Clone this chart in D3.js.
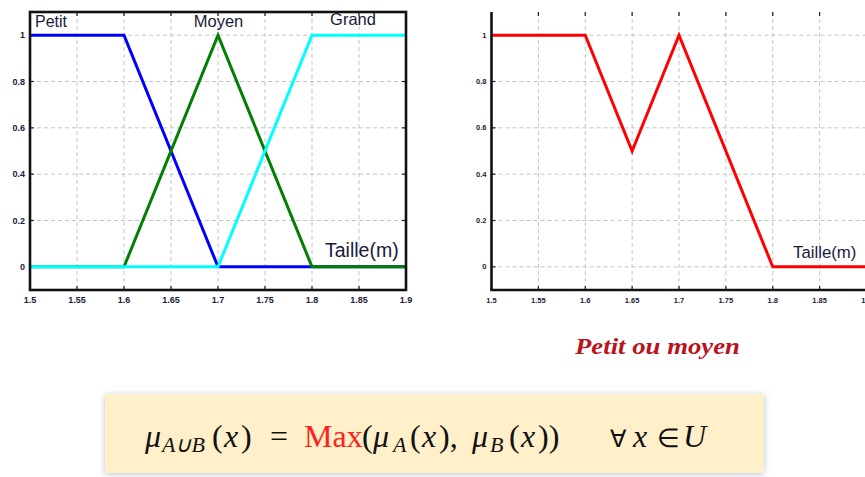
<!DOCTYPE html>
<html><head><meta charset="utf-8">
<script src="https://cdn.jsdelivr.net/npm/d3@7"></script>
<style>
html,body{margin:0;padding:0;background:#fff;}
svg{display:block;}
</style></head>
<body>
<svg id="c" width="865" height="477"></svg>
<script>
// ---- data ----
const xTicks = [1.5, 1.55, 1.6, 1.65, 1.7, 1.75, 1.8, 1.85, 1.9];
const xTickLabels = ["1.5", "1.55", "1.6", "1.65", "1.7", "1.75", "1.8", "1.85", "1.9"];
const yTicks = [0, 0.2, 0.4, 0.6, 0.8, 1];
const yTickLabels = ["0", "0.2", "0.4", "0.6", "0.8", "1"];
const petitX = [1.5, 1.6, 1.7, 1.9];
const petitY = [1, 1, 0, 0];
const moyenX = [1.5, 1.6, 1.7, 1.8, 1.9];
const moyenY = [0, 0, 1, 0, 0];
const grandX = [1.5, 1.7, 1.8, 1.9];
const grandY = [0, 0, 1, 1];
const unionX = [1.5, 1.6, 1.65, 1.7, 1.8, 1.9];
const unionY = [1, 1, 0.5, 1, 0, 0];
const seriesNames = ["Petit", "Moyen", "Grand"];
const axisLabel = "Taille(m)";
const caption = "Petit ou moyen";

const svg = d3.select("#c");
const defs = svg.append("defs");
const f = defs.append("filter").attr("id","sh").attr("x","-5%").attr("y","-20%").attr("width","110%").attr("height","140%");
f.append("feDropShadow").attr("dx",0).attr("dy",1).attr("stdDeviation",3).attr("flood-color","#7d8ea6").attr("flood-opacity",0.55);

const yDom = [-0.1, 1.1];
const yS = d3.scaleLinear().domain(yDom).range([290, 12]);
const xL = d3.scaleLinear().domain([1.5, 1.9]).range([30, 406]);
const xR = d3.scaleLinear().domain([1.5, 1.9]).range([491.5, 866.5]);

function panel(x, boxed, labelSize) {
  const g = svg.append("g");
  const [x0, x1] = x.range();
  const [yb, yt] = yS.range();
  g.selectAll(".vg").data(xTicks.slice(1, boxed ? -1 : undefined)).join("line")
    .attr("x1", d => x(d)).attr("x2", d => x(d)).attr("y1", yt).attr("y2", yb)
    .attr("stroke", "#c4c4c4").attr("stroke-width", 1).attr("stroke-dasharray", "4,3");
  g.selectAll(".hg").data(yTicks).join("line")
    .attr("x1", x0).attr("x2", x1).attr("y1", d => yS(d)).attr("y2", d => yS(d))
    .attr("stroke", "#c4c4c4").attr("stroke-width", 1).attr("stroke-dasharray", "4,3");
  const tk = 4;
  g.selectAll(".tb").data(xTicks).join("line")
    .attr("x1", d => x(d)).attr("x2", d => x(d)).attr("y1", yb).attr("y2", yb - tk)
    .attr("stroke", "#222").attr("stroke-width", 1.2);
  g.selectAll(".tt").data(xTicks).join("line")
    .attr("x1", d => x(d)).attr("x2", d => x(d)).attr("y1", yt).attr("y2", yt + tk)
    .attr("stroke", "#222").attr("stroke-width", 1.2);
  g.selectAll(".tl").data(yTicks).join("line")
    .attr("x1", x0).attr("x2", x0 + tk).attr("y1", d => yS(d)).attr("y2", d => yS(d))
    .attr("stroke", "#222").attr("stroke-width", 1.2);
  if (boxed) {
    g.selectAll(".tr").data(yTicks).join("line")
      .attr("x1", x1).attr("x2", x1 - tk).attr("y1", d => yS(d)).attr("y2", d => yS(d))
      .attr("stroke", "#222").attr("stroke-width", 1.2);
  }
  g.selectAll(".xl").data(xTicks).join("text")
    .attr("x", d => x(d)).attr("y", 300).attr("dy", "0.35em")
    .attr("text-anchor", "middle").attr("font-family", "Liberation Sans, Arial, sans-serif")
    .attr("font-weight", "bold").attr("font-size", labelSize).attr("fill", "#1a1a3c")
    .text((d, i) => xTickLabels[i]);
  g.selectAll(".yl").data(yTicks).join("text")
    .attr("x", x0 - 5).attr("y", d => yS(d)).attr("dy", "0.35em")
    .attr("text-anchor", "end").attr("font-family", "Liberation Sans, Arial, sans-serif")
    .attr("font-weight", "bold").attr("font-size", labelSize).attr("fill", "#1a1a3c")
    .text((d, i) => yTickLabels[i]);
  return g;
}

const gL = panel(xL, true, 9);
const gR = panel(xR, false, 7.5);

function drawLine(g, x, xs, ys, color) {
  const pts = xs.map((d, i) => [d, ys[i]]);
  g.append("path").datum(pts)
    .attr("d", d3.line().x(d => x(d[0])).y(d => yS(d[1])))
    .attr("fill", "none").attr("stroke", color).attr("stroke-width", 3)
    .attr("stroke-linejoin", "miter");
}
drawLine(gL, xL, petitX, petitY, "#0000ff");
drawLine(gL, xL, moyenX, moyenY, "#007f00");
drawLine(gL, xL, grandX, grandY, "#00ffff");
drawLine(gR, xR, unionX, unionY, "#ff0000");

gL.append("rect").attr("x", xL(1.5)).attr("y", yS(1.1)).attr("width", xL(1.9) - xL(1.5))
  .attr("height", yS(-0.1) - yS(1.1)).attr("fill", "none").attr("stroke", "#111").attr("stroke-width", 2.6);
gR.append("line").attr("x1", xR(1.5)).attr("x2", xR(1.5)).attr("y1", yS(1.1)).attr("y2", yS(-0.1))
  .attr("stroke", "#111").attr("stroke-width", 2.6);
gR.append("line").attr("x1", xR(1.5) - 1.3).attr("x2", 865).attr("y1", yS(-0.1)).attr("y2", yS(-0.1))
  .attr("stroke", "#111").attr("stroke-width", 2.6);

const sans = "Liberation Sans, Arial, sans-serif";
gL.append("text").attr("x", 35).attr("y", 26.5).attr("font-family", sans).attr("font-size", 16)
  .attr("fill", "#1a1a3c").text(seriesNames[0]);
gL.append("text").attr("x", 218.5).attr("y", 26.5).attr("text-anchor", "middle").attr("font-family", sans)
  .attr("font-size", 16.5).attr("fill", "#1a1a3c").text(seriesNames[1]);
gL.append("text").attr("x", 353).attr("y", 25).attr("text-anchor", "middle").attr("font-family", sans)
  .attr("font-size", 16.5).attr("fill", "#1a1a3c").text(seriesNames[2]);
gL.append("text").attr("x", 325).attr("y", 257).attr("font-family", sans).attr("font-size", 19.5)
  .attr("fill", "#1a1a3c").text(axisLabel);
gR.append("text").attr("x", 793).attr("y", 258).attr("font-family", sans).attr("font-size", 16.8)
  .attr("fill", "#1a1a3c").text(axisLabel);

svg.append("text").attr("x", 575).attr("y", 354).attr("font-family", "Liberation Serif, Times New Roman, serif")
  .attr("font-style", "italic").attr("font-weight", "bold").attr("font-size", 23)
  .attr("textLength", 165).attr("lengthAdjust", "spacingAndGlyphs")
  .attr("fill", "#b8141c").text(caption);

svg.append("rect").attr("x", 105).attr("y", 394).attr("width", 659).attr("height", 79)
  .attr("fill", "#fff0c9").attr("filter", "url(#sh)");
const serif = "Liberation Serif, Times New Roman, serif";
const fm = svg.append("g").attr("font-family", serif).attr("fill", "#111");
const BL = 447, SB = 452;
function t(x, y, s, size, italic, color) {
  fm.append("text").attr("x", x).attr("y", y).attr("font-size", size)
    .attr("font-style", italic ? "italic" : "normal").attr("fill", color || "#111").text(s);
}
t(145, BL, "μ", 32, true);
t(162, SB, "A∪B", 22, true);
t(212, BL, "(", 32, false);
t(224, BL, "x", 32, true);
t(241, BL, ")", 32, false);
t(270, BL, "=", 32, false);
t(304, BL, "Max", 32, false, "#ff2020");
t(362, BL, "(", 32, false);
t(373, BL, "μ", 32, true);
t(393, SB, "A", 22, true);
t(410, BL, "(", 32, false);
t(422, BL, "x", 32, true);
t(439, BL, "),", 32, false);
t(472, BL, "μ", 32, true);
t(490, SB, "B", 22, true);
t(509, BL, "(", 32, false);
t(521, BL, "x", 32, true);
t(538, BL, "))", 32, false);
t(610, BL, "∀", 24, false);
t(633, BL, "x", 32, true);
t(657, BL, "∈", 26, false);
t(683, BL, "U", 32, true);
</script>
</body></html>
